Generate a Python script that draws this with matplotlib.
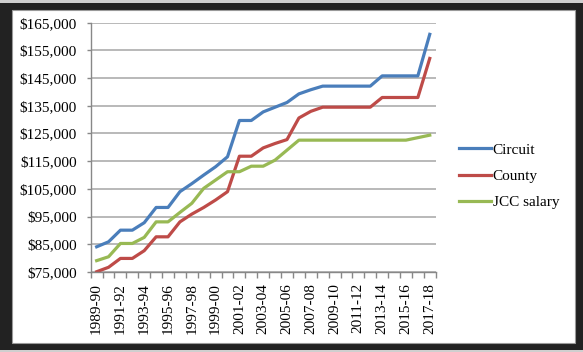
import matplotlib.pyplot as plt
from matplotlib.patches import Rectangle
from matplotlib.ticker import FuncFormatter

years = ['1989-90', '1990-91', '1991-92', '1992-93', '1993-94', '1994-95',
         '1995-96', '1996-97', '1997-98', '1998-99', '1999-00', '2000-01',
         '2001-02', '2002-03', '2003-04', '2004-05', '2005-06', '2006-07',
         '2007-08', '2008-09', '2009-10', '2010-11', '2011-12', '2012-13',
         '2013-14', '2014-15', '2015-16', '2016-17', '2017-18']

circuit = [84100, 85900, 90100, 90100, 92800, 98300, 98300, 104000, 106900,
           110000, 113000, 116600, 129700, 129700, 132800, 134500, 136200,
           139300, 140800, 142100, 142100, 142100, 142100, 142100, 145800,
           145800, 145800, 145800, 160800]
county = [75100, 76700, 79900, 79900, 82700, 87700, 87700, 93100, 95900,
          98300, 101000, 104000, 116800, 116800, 119800, 121400, 122800,
          130600, 133000, 134500, 134500, 134500, 134500, 134500, 138000,
          138000, 138000, 138000, 152100]
jcc = [79100, 80500, 85300, 85300, 87500, 93100, 93100, 96500, 99800,
       105200, 108200, 111200, 111200, 113200, 113200, 115400, 119000,
       122600, 122600, 122600, 122600, 122600, 122600, 122600, 122600,
       122600, 122600, 123500, 124400]

plt.rcParams['font.family'] = ['Liberation Serif', 'DejaVu Serif']
plt.rcParams['font.size'] = 11

W, H = 583, 352
fig = plt.figure(figsize=(W / 100, H / 100), dpi=100, facecolor='#cfcfcf')

# dark frame and white chart area
fig.add_artist(Rectangle((0, 1 - 350 / H), 1, 347 / H, transform=fig.transFigure,
                         facecolor='#222222', edgecolor='none', zorder=-3))
fig.add_artist(Rectangle((12 / W, 1 - 343 / H), 563 / W, 333 / H,
                         transform=fig.transFigure, facecolor='white',
                         edgecolor='#9a9a9a', linewidth=0.8, zorder=-2))

ax = fig.add_axes([90.7 / W, 1 - 272 / H, 345 / W, 249.3 / H])
ax.set_facecolor('none')

x = list(range(len(years)))
ax.plot(x, circuit, color='#4a7ebb', lw=2.3, label='Circuit', solid_joinstyle='round')
ax.plot(x, county, color='#be4b48', lw=2.3, label='County', solid_joinstyle='round')
ax.plot(x, jcc, color='#98b954', lw=2.3, label='JCC salary', solid_joinstyle='round')

ax.set_xlim(-0.5, len(years) - 0.5)
ax.set_ylim(75000, 165000)
ax.set_yticks(range(75000, 165001, 10000))
ax.yaxis.set_major_formatter(FuncFormatter(lambda v, p: '${:,.0f}'.format(v)))
ax.grid(axis='y', color='#a6a6a6', lw=1.1)
ax.set_axisbelow(True)

ax.set_xticks(x[::2])
ax.set_xticklabels(years[::2], rotation=90)
ax.set_xticks([i - 0.5 for i in range(len(years) + 1)], minor=True)
ax.tick_params(axis='x', which='major', length=0, pad=8)
ax.tick_params(axis='x', which='minor', length=4, color='#888888', width=1)
ax.tick_params(axis='y', length=3, color='#888888', width=1, pad=7)

for s in ['top', 'right']:
    ax.spines[s].set_visible(False)
for s in ['left', 'bottom']:
    ax.spines[s].set_color('#888888')
    ax.spines[s].set_linewidth(1)

ax.legend(loc='center left', bbox_to_anchor=(459 / W, 1 - 176 / H),
          bbox_transform=fig.transFigure, frameon=False, borderpad=0,
          borderaxespad=0, handlelength=2.1, handletextpad=0.1,
          labelspacing=0.82, fontsize=11)

fig.savefig('out.png', dpi=100, facecolor=fig.get_facecolor())
